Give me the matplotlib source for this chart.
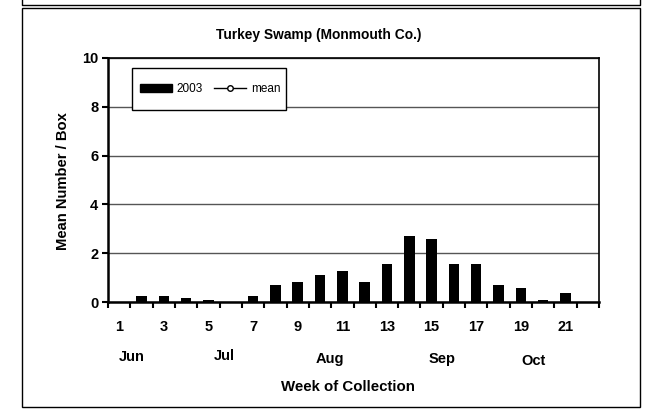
import matplotlib.pyplot as plt
import matplotlib.transforms as mtransforms
from matplotlib.patches import Rectangle
from matplotlib.lines import Line2D
import numpy as np

plt.rcParams['font.family'] = ['Liberation Sans', 'DejaVu Sans']

# data
weeks = list(range(1, 23))
counts_2003 = [0, 0.26, 0.26, 0.17, 0.07, 0, 0.26, 0.70, 0.80, 1.09, 1.28,
               0.80, 1.57, 2.70, 2.59, 1.57, 1.57, 0.70, 0.57, 0.07, 0.37, 0]
tick_weeks = [1, 3, 5, 7, 9, 11, 13, 15, 17, 19, 21]
months = ['Jun', 'Jul', 'Aug', 'Sep', 'Oct']
month_x = [1.58, 5.69, 10.42, 15.46, 19.57]
month_y = [0.127, 0.130, 0.122, 0.122, 0.117]

W, H = 645, 409
fig = plt.figure(figsize=(W/100, H/100), dpi=100)
ax = fig.add_axes([108/W, 1-302/H, (599-108)/W, (302-58)/H])

ax.bar(weeks, counts_2003, width=0.47, color='black', zorder=3)

ax.set_xlim(0.5, 22.5)
ax.set_ylim(0, 10)
ax.set_yticks([0, 2, 4, 6, 8, 10])
ax.yaxis.grid(True, color='#555555', lw=1)
ax.set_axisbelow(True)

ax.set_xticks(tick_weeks)
ax.set_xticks(np.arange(0.5, 23, 1), minor=True)
ax.tick_params(axis='x', which='major', length=0, pad=13)
ax.tick_params(axis='x', which='minor', length=4, width=1.5, direction='out')
ax.tick_params(axis='y', length=4, width=1.5, direction='out', pad=3)
for lab in ax.get_xticklabels() + ax.get_yticklabels():
    lab.set_fontweight('bold')
    lab.set_fontsize(10.5)

for side in ['left', 'bottom']:
    ax.spines[side].set_linewidth(1.8)
for side in ['top', 'right']:
    ax.spines[side].set_linewidth(1.2)

trans = mtransforms.blended_transform_factory(ax.transData, fig.transFigure)
for m, mx, my in zip(months, month_x, month_y):
    ax.text(mx, my, m, transform=trans, ha='center', va='center',
            fontsize=10.5, fontweight='bold')

fig.text(319/W, 1-35/H, 'Turkey Swamp (Monmouth Co.)', ha='center', va='center',
         fontsize=9.9, fontweight='bold')
fig.text(348/W, 1-387/H, 'Week of Collection', ha='center', va='center',
         fontsize=10.8, fontweight='bold')
fig.text(63/W, 1-181/H, 'Mean Number / Box', ha='center', va='center',
         rotation=90, fontsize=10.6, fontweight='bold')

# legend box (Excel style: tall, tight at the sides)
ax.add_patch(Rectangle((132/W, 1-110/H), (286-132)/W, (110-68)/H,
                       transform=fig.transFigure, fc='white', ec='black',
                       lw=1, zorder=4, clip_on=False))
handles = [Rectangle((0, 0), 1, 1, color='black'),
           Line2D([], [], color='black', lw=1, marker='o', markersize=4,
                  markerfacecolor='white')]
leg = ax.legend(handles, ['2003', 'mean'], ncol=2, loc='center',
                bbox_to_anchor=(210/W, 1-89/H), bbox_transform=fig.transFigure,
                fontsize=8.5, frameon=False, borderpad=0, handlelength=2.7,
                handleheight=0.6, handletextpad=0.4, columnspacing=1.0,
                borderaxespad=0)
leg.set_zorder(5)

# chart frame, plus the bottom edge of the panel above
fig.add_artist(Rectangle((22/W, 1-407/H), (640-22)/W, (407-7.5)/H, fill=False,
                         ec='black', lw=1, transform=fig.transFigure))
fig.add_artist(Line2D([22/W, 22/W, 640/W, 640/W], [1, 1-4.5/H, 1-4.5/H, 1],
                      color='black', lw=1, transform=fig.transFigure))

plt.savefig('out.png', dpi=100)
